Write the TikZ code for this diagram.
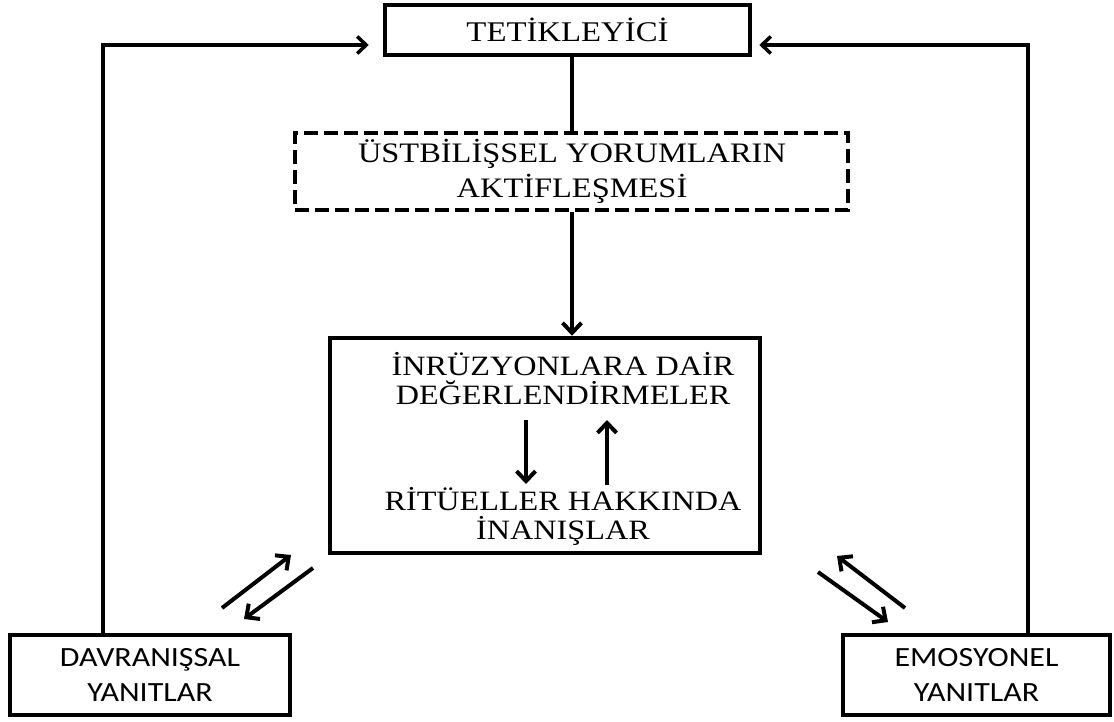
\documentclass[tikz,border=0pt]{standalone}
\usepackage{fontspec}
\setmainfont{Liberation Serif}[FakeStretch=1.15]
\newfontfamily\sansf{Carlito}[FakeStretch=1.15]
\usetikzlibrary{arrows.meta}
\begin{document}
\begin{tikzpicture}[x=1pt,y=-1pt,
  box/.style={draw,line width=4.5pt,inner sep=0pt,align=center},
  dbox/.style={draw,line width=4.5pt,dash pattern=on 14pt off 6pt,inner sep=0pt},
  conn/.style={line width=3.5pt},
  arr/.style={line width=3.5pt,-{Straight Barb[length=9pt,width=17pt,line width=3.5pt]}},
  barr/.style={line width=4pt,-{Straight Barb[length=10pt,width=19pt,line width=4pt]}},
  txt/.style={inner sep=0pt,align=center}]
\useasboundingbox (0,0) rectangle (1114,722);
% boxes
\node[box,minimum width=365pt,minimum height=50pt,font=\fontsize{28.5}{33}\selectfont] (tet) at (567.5,30) {TETİKLEYİCİ};
\node[dbox,minimum width=553pt,minimum height=77pt] (dash) at (571.5,171.5) {};
\node[txt,font=\fontsize{28.2}{35}\selectfont] (dt) at (572,171) {ÜSTBİLİŞSEL YORUMLARIN\\AKTİFLEŞMESİ};
\node[box,minimum width=430pt,minimum height=215pt] (main) at (545,445.5) {};
\node[txt,font=\fontsize{28}{29}\selectfont] (t1) at (563,379) {İNRÜZYONLARA DAİR\\DEĞERLENDİRMELER};
\node[txt,font=\fontsize{28}{29}\selectfont] (t2) at (563,516) {RİTÜELLER HAKKINDA\\İNANIŞLAR};
\node[box,minimum width=280pt,minimum height=80pt,font=\sansf\fontsize{27.8}{35}\selectfont] (left) at (150,675) {DAVRANIŞSAL\\YANITLAR};
\node[box,minimum width=267pt,minimum height=80pt,font=\sansf\fontsize{27.8}{35}\selectfont] (right) at (976.5,675) {EMOSYONEL\\YANITLAR};
% connectors
\draw[conn] (dash.north -| 572,0) -- (572,0 |- tet.south);
\draw[barr] (dash.south -| 572,0) -- (572,0 |- main.north);
\coordinate (lc) at (103,45);
\coordinate (rc) at (1028,45);
\draw[arr,shorten >=14pt] (left.north -| lc) -- (lc) -- (lc -| tet.west);
\draw[arr,shorten >=7pt] (right.north -| rc) -- (rc) -- (rc -| tet.east);
% inner arrows
\coordinate (d1) at (526,420); \coordinate (d2) at (526,484);
\coordinate (u1) at (607,485); \coordinate (u2) at (607,420);
\draw[barr] (d1) -- (d2);
\draw[barr] (u1) -- (u2);
% diagonal arrows
\coordinate (a1s) at (222,608); \coordinate (a1e) at (291,555);
\coordinate (a2s) at (313,568); \coordinate (a2e) at (244,619);
\coordinate (b1s) at (818,572); \coordinate (b1e) at (888,622);
\coordinate (b2s) at (905,608); \coordinate (b2e) at (837,556);
\draw[barr] (a1s) -- (a1e);
\draw[barr] (a2s) -- (a2e);
\draw[barr] (b1s) -- (b1e);
\draw[barr] (b2s) -- (b2e);
\end{tikzpicture}
\end{document}
